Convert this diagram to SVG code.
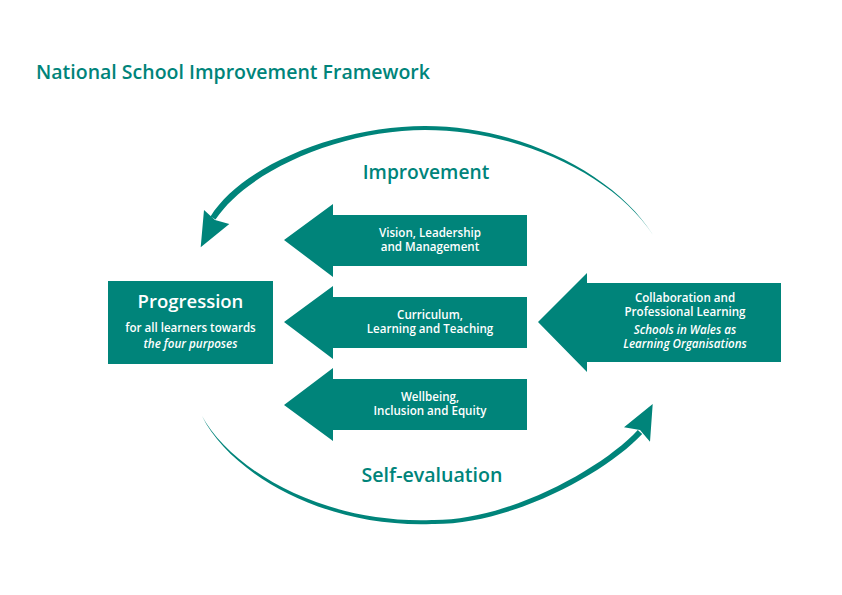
<svg xmlns="http://www.w3.org/2000/svg" width="842" height="595" viewBox="0 0 842 595">
<style>
.teal{fill:#00847a}
.title{font-family:"Open Sans","Liberation Sans",sans-serif;font-weight:600;fill:#00847a}
.w{font-family:"Open Sans","Liberation Sans",sans-serif;font-weight:600;fill:#ffffff;text-anchor:middle}
.i{font-style:italic}
</style>
<rect width="842" height="595" fill="#ffffff"/>
<text class="title" x="36" y="79" font-size="19.5">National School Improvement Framework</text>

<g id="connectors">
  <g id="improvement-arc">
    <path class="teal" d="M653,235 C615,174 520,126 425,126 C338,126 242,166 210.5,216.4 L215.5,219.6 C248,170 342,130 425,130 C520,130 615,176 653,235 Z"/>
    <polygon class="teal" points="200.7,247.3 204,210 215,220 229.3,224"/>
  </g>
  <g id="self-evaluation-arc">
    <path class="teal" d="M202,416 C229,471 320,528 432,524 C512,525 607,472 642.2,434 L637.8,430 C603,468 508,521 432,520 C321,524 231,469 202,416 Z"/>
    <polygon class="teal" points="652.7,404 624,427.3 640,430 650,441.7"/>
  </g>
  <text class="title" x="426" y="179" font-size="19.2" text-anchor="middle">Improvement</text>
  <text class="title" x="432" y="482" font-size="19.6" text-anchor="middle">Self-evaluation</text>
</g>

<g id="progression">
  <rect class="teal" x="108" y="281" width="165" height="83"/>
  <text class="w" x="190.5" y="308" font-size="18.5">Progression</text>
  <text class="w" x="190.5" y="332" font-size="11.6">for all learners towards</text>
  <text class="w i" x="190.5" y="348" font-size="11.6">the four purposes</text>
</g>

<g id="vision">
  <polygon class="teal" points="284,240 333,204 333,215 527,215 527,266 333,266 333,277"/>
  <text class="w" x="430" y="237" font-size="11.6">Vision, Leadership</text>
  <text class="w" x="430" y="251" font-size="11.6">and Management</text>
</g>

<g id="curriculum">
  <polygon class="teal" points="284,322 333,286 333,297 527,297 527,348 333,348 333,359"/>
  <text class="w" x="430" y="319" font-size="11.6">Curriculum,</text>
  <text class="w" x="430" y="333" font-size="11.6">Learning and Teaching</text>
</g>

<g id="wellbeing">
  <polygon class="teal" points="284,405 333,368 333,379 527,379 527,430 333,430 333,441"/>
  <text class="w" x="430" y="401" font-size="11.6">Wellbeing,</text>
  <text class="w" x="430" y="415" font-size="11.6">Inclusion and Equity</text>
</g>

<g id="collaboration">
  <polygon class="teal" points="538,322 587,273 587,283 781,283 781,362 587,362 587,372"/>
  <text class="w" x="685" y="302" font-size="11.6">Collaboration and</text>
  <text class="w" x="685" y="316" font-size="11.6">Professional Learning</text>
  <text class="w i" x="685" y="334" font-size="11.6">Schools in Wales as</text>
  <text class="w i" x="685" y="348" font-size="11.6">Learning Organisations</text>
</g>
</svg>
